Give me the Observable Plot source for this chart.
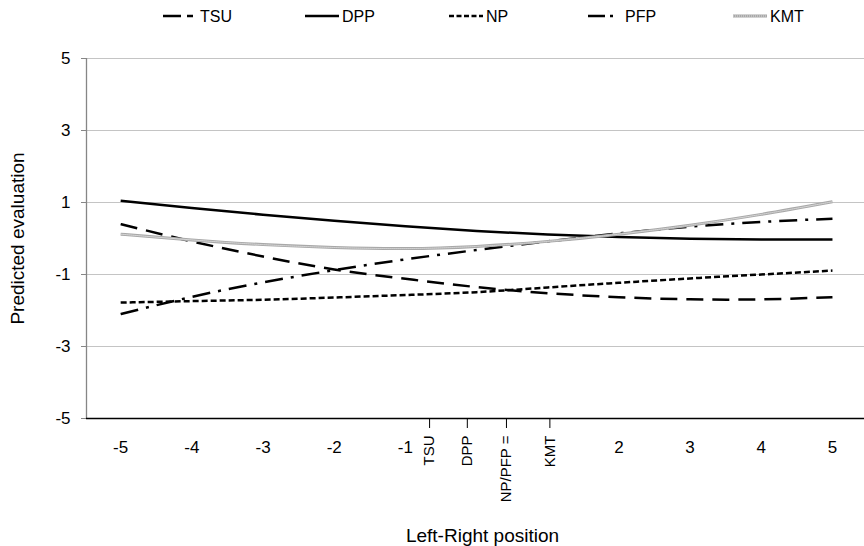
<!DOCTYPE html>
<html>
<head>
<meta charset="utf-8">
<script src="https://cdn.jsdelivr.net/npm/d3@7"></script>
<script src="https://cdn.jsdelivr.net/npm/@observablehq/plot@0.6"></script>
<style>
  html, body { margin: 0; padding: 0; background: #fff; }
  body { width: 864px; height: 546px; overflow: hidden; font-family: "Liberation Sans", Arial, sans-serif; }
  #legend { display: block; }
</style>
</head>
<body>
<div id="chart"></div>
<script>
// ---- data ----
const positions = [-5, -4, -3, -2, -1, 0, 1, 2, 3, 4, 5];
const seriesNames = ["TSU", "DPP", "NP", "PFP", "KMT"];
const tsu = [0.40, -0.08, -0.50, -0.86, -1.12, -1.35, -1.52, -1.63, -1.69, -1.69, -1.63];
const dpp = [1.05, 0.85, 0.66, 0.49, 0.34, 0.21, 0.11, 0.04, -0.01, -0.03, -0.03];
const np  = [-1.78, -1.74, -1.70, -1.64, -1.57, -1.49, -1.36, -1.23, -1.11, -1.00, -0.89];
const pfp = [-2.10, -1.62, -1.22, -0.88, -0.58, -0.32, -0.08, 0.14, 0.33, 0.46, 0.55];
const kmt = [0.12, -0.04, -0.17, -0.25, -0.28, -0.22, -0.08, 0.12, 0.37, 0.67, 1.02];
const numericTicks = [-5, -4, -3, -2, -1, 2, 3, 4, 5];
const partyLabels = ["TSU", "DPP", "NP/PFP =", "KMT"];
const partyPositions = [-0.66, -0.13, 0.42, 1.03];
const yTicks = [5, 3, 1, -1, -3, -5];
const gridValues = [5, 3, 1, -1, -3];

// ---- styles ----
const styles = {
  TSU: {stroke: "#000", width: 2.5, dash: "17,9", legendDash: "18,6,6,30"},
  DPP: {stroke: "#000", width: 2.5, dash: null, legendDash: null},
  NP:  {stroke: "#000", width: 2.5, dash: "6,3", legendDash: "5,2.5"},
  PFP: {stroke: "#000", width: 2.5, dash: "18,8,3,8", legendDash: "17,5,3,30"},
  KMT: {stroke: "#a8a8a8", width: 3, dash: null, legendDash: null}
};
const values = {TSU: tsu, DPP: dpp, NP: np, PFP: pfp, KMT: kmt};
const font = "Liberation Sans, Arial, sans-serif";

// ---- legend (above the plot) ----
const legendH = 32;
const legendItems = [
  {name: "TSU", x: 163},
  {name: "DPP", x: 305},
  {name: "NP", x: 449},
  {name: "PFP", x: 588},
  {name: "KMT", x: 733}
];
const lsvg = d3.select("#chart").append("svg")
  .attr("id", "legend").attr("width", 864).attr("height", legendH)
  .style("font-family", font);
legendItems.forEach(it => {
  const s = styles[it.name];
  const g = lsvg.append("g");
  g.append("line").attr("x1", it.x).attr("x2", it.x + 34).attr("y1", 16).attr("y2", 16)
    .attr("stroke", s.stroke).attr("stroke-width", s.width)
    .attr("stroke-dasharray", s.legendDash);
  if (it.name === "KMT") {
    g.append("line").attr("x1", it.x).attr("x2", it.x + 34).attr("y1", 16).attr("y2", 16)
      .attr("stroke", "#dcdcdc").attr("stroke-width", 1).attr("stroke-dasharray", "1,1");
  }
  g.append("text").attr("x", it.x + 37).attr("y", 16).attr("dy", "0.35em")
    .attr("font-size", 16).attr("fill", "#000").text(it.name);
});

// ---- plot ----
const rows = [];
seriesNames.forEach(n => positions.forEach((p, i) => rows.push({series: n, x: p, y: values[n][i]})));
const xDomain = [-5.48, 5.45];

const lineMarks = seriesNames.map(n => Plot.line(rows.filter(r => r.series === n), {
  x: "x", y: "y", curve: "natural",
  stroke: styles[n].stroke, strokeWidth: styles[n].width,
  strokeDasharray: styles[n].dash || undefined,
  strokeLinecap: "butt"
}));
// KMT texture overlay
lineMarks.push(Plot.line(rows.filter(r => r.series === "KMT"), {
  x: "x", y: "y", curve: "natural", stroke: "#dcdcdc", strokeWidth: 1, strokeDasharray: "1,1"
}));

const plot = Plot.plot({
  width: 864,
  height: 546 - legendH,
  marginTop: 26,
  marginBottom: 128,
  marginLeft: 86,
  marginRight: 0,
  style: {fontFamily: font, fontSize: "17px", color: "#000", background: "#fff"},
  x: {domain: xDomain},
  y: {domain: [-5, 5]},
  marks: [
    Plot.ruleY(gridValues, {stroke: "#c4c4c4", strokeWidth: 1}),
    Plot.ruleX([xDomain[0]], {y1: -5, y2: 5, stroke: "#868686", strokeWidth: 1.3}),
    Plot.ruleY([-5], {stroke: "#000", strokeWidth: 1.3}),
    Plot.axisY({ticks: yTicks, tickSize: 5, tickPadding: 11, fontSize: 17, label: null, stroke: "#868686",
      tickFormat: d => String(d)}),
    Plot.axisX({ticks: numericTicks, tickSize: 0, tickPadding: 22, fontSize: 17, label: null, tickFormat: d => String(d)}),
    Plot.axisX(partyPositions, {tickSize: 10, tickPadding: 7, tickRotate: -90, fontSize: 15, label: null,
      tickFormat: d => partyLabels[partyPositions.indexOf(d)]}),
    ...lineMarks,
    Plot.text(["Predicted evaluation"], {frameAnchor: "left", textAnchor: "middle", dx: -69, rotate: -90, fontSize: 19, text: d => d}),
    Plot.text(["Left-Right position"], {frameAnchor: "bottom", textAnchor: "middle", lineAnchor: "middle", dy: 117, dx: 7, fontSize: 19, text: d => d})
  ]
});
document.getElementById("chart").appendChild(plot);
</script>
</body>
</html>
